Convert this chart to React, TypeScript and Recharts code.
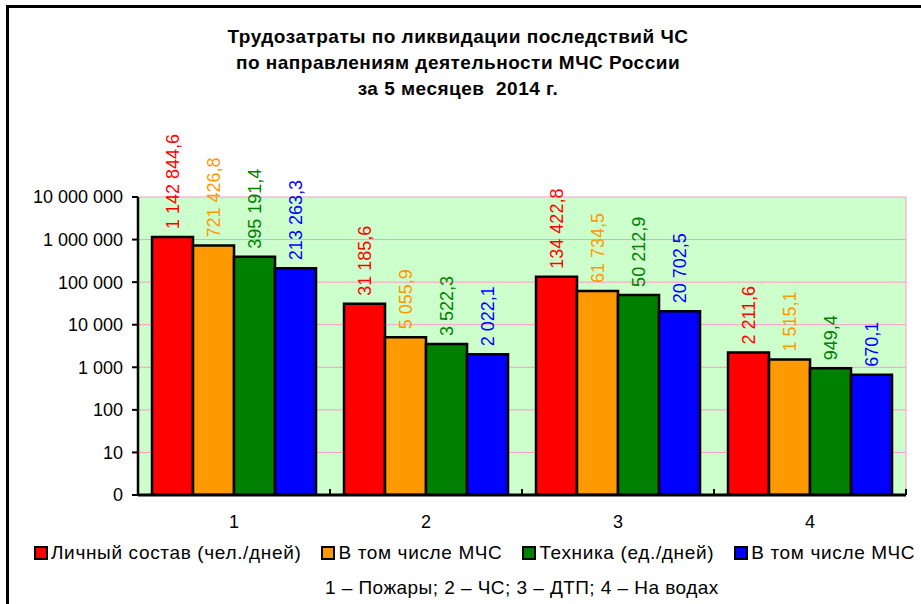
import React from "react";
import {
  BarChart,
  Bar,
  XAxis,
  YAxis,
  CartesianGrid,
  LabelList,
} from "recharts";

const categories = ["1", "2", "3", "4"];
const personnel = [1142844.6, 31185.6, 134422.8, 2211.6];
const personnelMchs = [721426.8, 5055.9, 61734.5, 1515.1];
const equipment = [395191.4, 3522.3, 50212.9, 949.4];
const equipmentMchs = [213263.3, 2022.1, 20702.5, 670.1];
const yTicks = [1, 10, 100, 1000, 10000, 100000, 1000000, 10000000];

const titleLines = [
  "Трудозатраты по ликвидации последствий ЧС",
  "по направлениям деятельности МЧС России",
  "за 5 месяцев  2014 г.",
];
const footnote = "1 – Пожары; 2 – ЧС; 3 – ДТП; 4 – На водах";

const series = [
  { key: "p", name: "Личный состав (чел./дней)", fill: "#ff0000", text: "#ff0000", values: personnel },
  { key: "pm", name: "В том числе МЧС", fill: "#ff9900", text: "#ff9900", values: personnelMchs },
  { key: "e", name: "Техника (ед./дней)", fill: "#008000", text: "#008000", values: equipment },
  { key: "em", name: "В том числе МЧС", fill: "#0000ff", text: "#0000ff", values: equipmentMchs },
];

const data = categories.map((c, i) => {
  const row: any = { name: c };
  series.forEach((s) => (row[s.key] = s.values[i]));
  return row;
});

const FONT = "'Liberation Sans', Arial, sans-serif";

function groupDigits(s: string) {
  return s.replace(/\B(?=(\d{3})+(?!\d))/g, " ");
}

function fmtValue(v: number) {
  const [i, d] = v.toFixed(1).split(".");
  return groupDigits(i) + "," + d;
}

function fmtTick(v: number) {
  if (v === 1) return "0";
  return groupDigits(String(Math.round(v)));
}

const makeLabel = (color: string) => (props: any) => {
  const { x, y, width, value } = props;
  const cx = x + width / 2;
  const cy = y - 8;
  return (
    <text
      x={cx}
      y={cy}
      transform={`rotate(-90 ${cx} ${cy})`}
      textAnchor="start"
      dominantBaseline="central"
      fill={color}
      fontSize={18}
      fontFamily={FONT}
    >
      {fmtValue(value)}
    </text>
  );
};

const XTick = (props: any) => {
  const { x, y, payload, index } = props;
  const off = payload.offset ?? 0;
  return (
    <g>
      <line x1={x - off} x2={x - off} y1={y} y2={y - 6} stroke="#000" strokeWidth={2} />
      {index === categories.length - 1 && (
        <line x1={x + off} x2={x + off} y1={y} y2={y - 6} stroke="#000" strokeWidth={2} />
      )}
      <text x={x} y={y + 33} textAnchor="middle" fontSize={18} fontFamily={FONT} fill="#000">
        {payload.value}
      </text>
    </g>
  );
};

export default function App() {
  return (
    <div style={{ position: "absolute", left: 0, top: 0, width: 921, height: 604, background: "#fff", fontFamily: FONT }}>
      <div
        style={{
          position: "absolute",
          left: 6,
          top: 5,
          width: 912,
          height: 596,
          borderLeft: "3px solid #000",
          borderTop: "3px solid #000",
        }}
      />
      <div
        style={{
          position: "absolute",
          left: 0,
          top: 24,
          width: 916,
          textAlign: "center",
          fontSize: 19,
          letterSpacing: 0.5,
          fontWeight: "bold",
          lineHeight: "26px",
          color: "#000",
        }}
      >
        {titleLines.map((t) => (
          <div key={t} style={{ whiteSpace: "pre" }}>{t}</div>
        ))}
      </div>
      <BarChart
        width={921}
        height={604}
        data={data}
        margin={{ top: 197, right: 15, left: 8, bottom: 69 }}
        barCategoryGap="7.3%"
        barGap={0}
        style={{ position: "absolute", left: 0, top: 0 }}
      >
        <CartesianGrid
          stroke="#ff99cc"
          fill="#ccffcc"
          fillOpacity={1}
          verticalCoordinatesGenerator={({ offset }: any) => [offset.left + offset.width]}
        />
        <XAxis
          dataKey="name"
          height={40}
          tickLine={false}
          tickSize={0}
          tickMargin={0}
          axisLine={{ stroke: "#000", strokeWidth: 3 }}
          tick={<XTick />}
          interval={0}
        />
        <YAxis
          type="number"
          scale="log"
          domain={[1, 10000000]}
          ticks={yTicks}
          allowDataOverflow
          width={130}
          tickSize={6}
          tickMargin={9}
          tickFormatter={fmtTick}
          axisLine={{ stroke: "#000", strokeWidth: 2.5 }}
          tickLine={{ stroke: "#000", strokeWidth: 2 }}
          tick={{ fill: "#000", fontSize: 18, fontFamily: FONT }}
          interval={0}
        />
        {series.map((s) => (
          <Bar
            key={s.key}
            dataKey={s.key}
            name={s.name}
            fill={s.fill}
            stroke="#000"
            strokeWidth={2.5}
            isAnimationActive={false}
          >
            <LabelList dataKey={s.key} content={makeLabel(s.text)} />
          </Bar>
        ))}
      </BarChart>
      <div
        style={{
          position: "absolute",
          left: 34,
          top: 542,
          height: 22,
          display: "flex",
          alignItems: "center",
          gap: 20,
          fontSize: 19,
          letterSpacing: 0.65,
          color: "#000",
          whiteSpace: "nowrap",
        }}
      >
        {series.map((s) => (
          <div key={s.key} style={{ display: "flex", alignItems: "center", gap: 3 }}>
            <span
              style={{
                display: "inline-block",
                width: 10,
                height: 10,
                background: s.fill,
                border: "2.5px solid #000",
              }}
            />
            <span>{s.name}</span>
          </div>
        ))}
      </div>
      <div
        style={{
          position: "absolute",
          left: 325,
          top: 577,
          fontSize: 19,
          letterSpacing: 0.45,
          lineHeight: "22px",
          whiteSpace: "nowrap",
          color: "#000",
        }}
      >
        {footnote}
      </div>
    </div>
  );
}
